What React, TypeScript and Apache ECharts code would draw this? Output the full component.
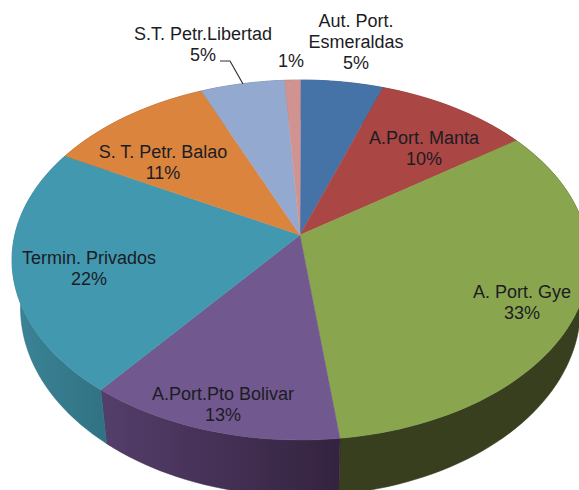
import React, { useEffect, useRef } from "react";
import * as echarts from "echarts";

const names = [
  "Aut. Port.\nEsmeraldas",
  "A.Port. Manta",
  "A. Port. Gye",
  "A.Port.Pto Bolivar",
  "Termin. Privados",
  "S. T. Petr. Balao",
  "S.T. Petr.Libertad",
  "",
];
const shares = [5.3, 9.9, 32.9, 12.6, 22.2, 10.7, 5.4, 1.0];
const topColors = ["#4572A7", "#AA4643", "#89A54E", "#71588F", "#4198AF", "#DB843D", "#93A9CF", "#D19392"];
const sideLeft = ["#2f4e73", "#75302e", "#373F1E", "#543E6B", "#3C8498", "#96592a", "#65748e", "#8f6564"];
const sideRight = ["#2f4e73", "#75302e", "#373F1E", "#34233F", "#307283", "#96592a", "#65748e", "#8f6564"];
const labelAnchors = [
  [356, 41.5],
  [424, 148],
  [522, 302.5],
  [223, 404],
  [89, 268],
  [163, 162],
  [203, 44],
  [291, 60.5],
];
const leaderLine = [
  [220, 61],
  [230, 61],
  [243, 84],
];

const TOP = { cx: 300.5, cy: 260, rx: 288.5, ry: 180 };
const BOTTOM = { cx: 300.5, cy: 308, rx: 280, ry: 188 };
const APEX = [300, 235];
const K = 0.869;

const total = shares.reduce((a, b) => a + b, 0);
const cumulative = shares.reduce<number[]>((acc, v) => [...acc, acc[acc.length - 1] + v], [0]);

function phiOf(share: number) {
  const half = (share / total) * Math.PI;
  return 2 * Math.atan2(K * Math.sin(half), Math.cos(half));
}
function pointOn(e: typeof TOP, phi: number) {
  return [e.cx + e.rx * Math.sin(phi), e.cy - e.ry * Math.cos(phi)];
}
function arc(e: typeof TOP, from: number, to: number) {
  const n = Math.max(4, Math.ceil((to - from) * 2));
  const pts: number[][] = [];
  for (let i = 0; i <= n; i++) pts.push(pointOn(e, phiOf(from + ((to - from) * i) / n)));
  return pts;
}

const sliceData = shares.map((v, i) => ({ value: [v, i] }));

export default function App() {
  const ref = useRef<HTMLDivElement>(null);
  useEffect(() => {
    document.body.style.margin = "0";
    const chart = echarts.init(ref.current!, undefined, { renderer: "svg" });
    chart.setOption({
      animation: false,
      backgroundColor: "#ffffff",
      series: [
        {
          type: "custom",
          coordinateSystem: "none",
          silent: true,
          z: 1,
          data: sliceData,
          renderItem: (_p: any, api: any) => {
            const i = api.value(1);
            const from = cumulative[i];
            const to = from + api.value(0);
            const points = [...arc(TOP, from, to), ...arc(BOTTOM, from, to).reverse()];
            const fill = new echarts.graphic.LinearGradient(0, 0, 1, 0, [
              { offset: 0, color: sideLeft[i] },
              { offset: 1, color: sideRight[i] },
            ]);
            return { type: "polygon", shape: { points }, style: { fill, stroke: sideRight[i], lineWidth: 0.5 } };
          },
        },
        {
          type: "custom",
          coordinateSystem: "none",
          silent: true,
          z: 2,
          data: sliceData,
          renderItem: (_p: any, api: any) => {
            const i = api.value(1);
            const from = cumulative[i];
            const to = from + api.value(0);
            const points = [APEX, ...arc(TOP, from, to)];
            return {
              type: "polygon",
              shape: { points },
              style: { fill: topColors[i], stroke: topColors[i], lineWidth: 0.4 },
            };
          },
        },
        {
          type: "custom",
          coordinateSystem: "none",
          silent: true,
          z: 3,
          data: sliceData,
          renderItem: (_p: any, api: any) => {
            const i = api.value(1);
            const pct = `${Math.round(api.value(0))}%`;
            return {
              type: "text",
              x: labelAnchors[i][0],
              y: labelAnchors[i][1],
              style: {
                text: names[i] ? `${names[i]}\n${pct}` : pct,
                fill: "#1c1c24",
                font: "18px 'Liberation Sans', Arial, sans-serif",
                lineHeight: 21,
                align: "center",
                verticalAlign: "middle",
              },
            };
          },
        },
      ],
      graphic: [
        {
          type: "polyline",
          z: 4,
          shape: { points: leaderLine },
          style: { stroke: "#333333", lineWidth: 1.2, fill: "none" },
        },
      ],
    });
    return () => chart.dispose();
  }, []);
  return <div ref={ref} style={{ width: 579, height: 490 }} />;
}
